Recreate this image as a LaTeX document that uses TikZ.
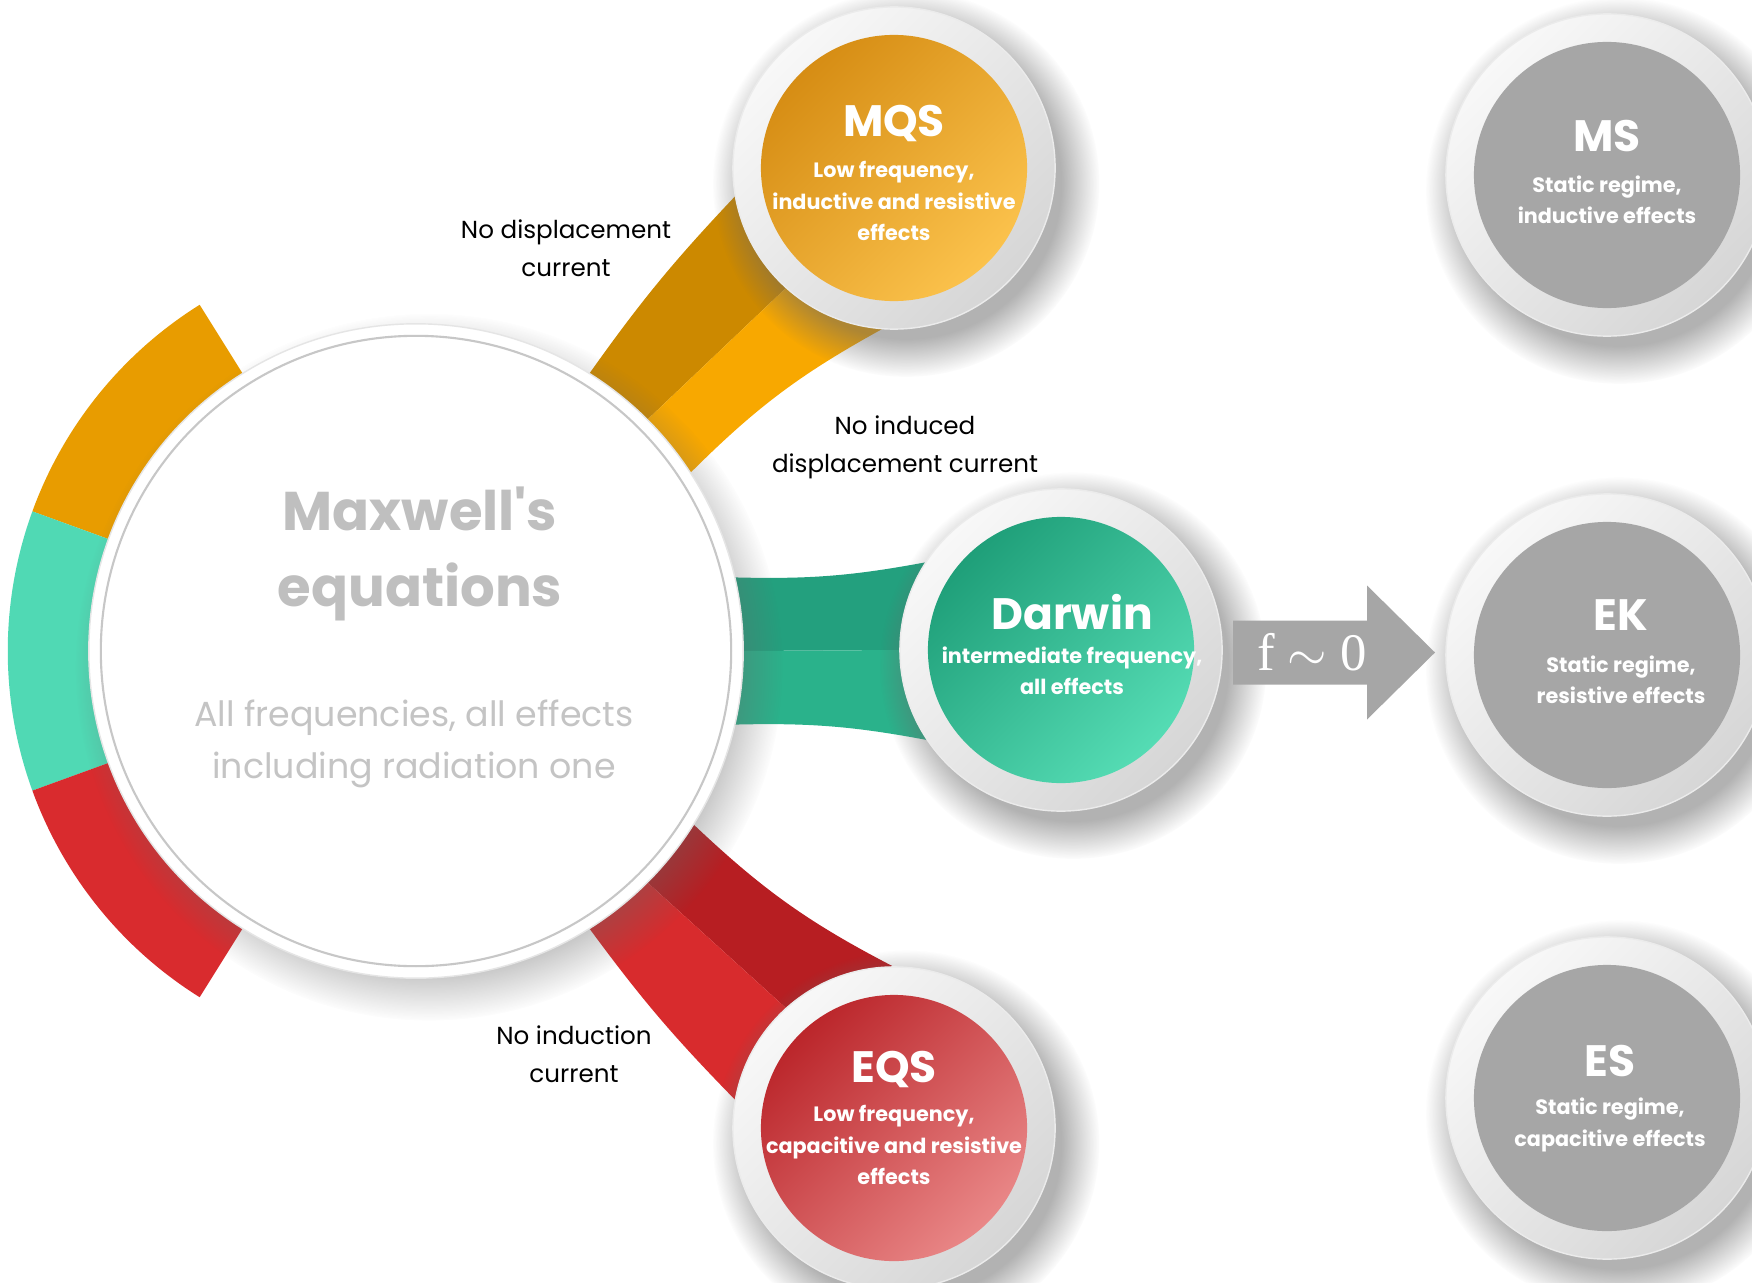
\documentclass[tikz,border=0pt]{standalone}
\usepackage{fontspec}
\setmainfont{Poppins}
\newfontfamily\limfont{Liberation Serif}
\usetikzlibrary{calc,shadows,fadings}
\pgfdeclarelayer{background}
\pgfsetlayers{background,main}

\definecolor{arcorange}{HTML}{E89C00}
\definecolor{arcteal}{HTML}{50D9B4}
\definecolor{arcred}{HTML}{D92B2E}
\definecolor{orgdark}{HTML}{CC8900}
\definecolor{orglight}{HTML}{F8A800}
\definecolor{tealdark}{HTML}{23A07E}
\definecolor{teallight}{HTML}{2AB28B}
\definecolor{reddark}{HTML}{B71E22}
\definecolor{redlight}{HTML}{D82B2D}
\definecolor{mqsA}{HTML}{D68D14}
\definecolor{mqsB}{HTML}{FBC24C}
\definecolor{darA}{HTML}{1F9F79}
\definecolor{darB}{HTML}{55DCB4}
\definecolor{eqsA}{HTML}{BB262B}
\definecolor{eqsB}{HTML}{E98787}
\definecolor{statgray}{HTML}{A6A6A6}
\definecolor{ringlt}{HTML}{F8F8F8}
\definecolor{ringdk}{HTML}{D6D6D6}
\definecolor{maxgray}{HTML}{BFBFBF}
\definecolor{maxlight}{HTML}{C4C4C4}

\tikzset{
	ringnode/.style={circle, minimum size=3.22cm, inner sep=0pt, outer sep=0pt,
		top color=ringlt, bottom color=ringdk, shading angle=45, draw=black!8,
		circular drop shadow={shadow scale=1.2, shadow xshift=0.1cm, shadow yshift=-0.13cm,
			opacity=0.5, fill=black!60, path fading={circle with fuzzy edge 20 percent}}},
	disknode/.style={circle, minimum size=2.66cm, inner sep=0pt, outer sep=0pt},
	regtitle/.style={text=white, font=\fontsize{12.5}{14}\selectfont\bfseries},
	regtext/.style={text=white, align=center, font=\fontsize{5.9}{8.9}\selectfont\bfseries},
	lbl/.style={align=center, font=\fontsize{7}{10.8}\selectfont},
}

\begin{document}
\begin{tikzpicture}[x=0.01cm,y=-0.01cm]
	\useasboundingbox (0,0) rectangle (1752,1282);
	% central circle
	\node[circle, minimum size=6.54cm, inner sep=0pt, outer sep=0pt, fill=white, draw=black!10,
		circular drop shadow={shadow scale=1.08, shadow xshift=0.12cm, shadow yshift=-0.15cm,
			opacity=0.4, fill=black!60, path fading={circle with fuzzy edge 15 percent}}] (maxw) at (416,651) {};
	\node[circle, minimum size=6.3cm, inner sep=0pt, fill=white, draw=black!22, line width=0.6pt] (maxw-in) at (maxw) {};
	\node[align=center, text=maxgray, font=\fontsize{15.5}{21.6}\selectfont\bfseries] (maxw-t) at ($(maxw)+(4,-97)$) {Maxwell\textquotesingle s\\equations};
	\node[align=center, text=maxlight, font=\fontsize{9.9}{14.6}\selectfont] (maxw-d) at ($(maxw)+(-2,93)$) {All frequencies, all effects\\including radiation one};

	% quasi-static regimes
	\node[ringnode] (mqs) at (894,168) {};
	\node[disknode, top color=mqsA, bottom color=mqsB, shading angle=45] (mqs-in) at (mqs) {};
	\node[regtitle] (mqs-t) at ($(mqs)+(0,-45)$) {MQS};
	\node[regtext] (mqs-d) at ($(mqs)+(0,33)$) {Low frequency,\\inductive and resistive\\effects};

	\node[ringnode] (darwin) at (1061,650) {};
	\node[disknode, top color=darA, bottom color=darB, shading angle=45] (darwin-in) at (darwin) {};
	\node[regtitle] (darwin-t) at ($(darwin)+(11,-38)$) {Darwin};
	\node[regtext] (darwin-d) at ($(darwin)+(11,21)$) {intermediate frequency,\\all effects};

	\node[ringnode] (eqs) at (894,1128) {};
	\node[disknode, top color=eqsA, bottom color=eqsB, shading angle=45] (eqs-in) at (eqs) {};
	\node[regtitle] (eqs-t) at ($(eqs)+(0,-59)$) {EQS};
	\node[regtext] (eqs-d) at ($(eqs)+(0,17)$) {Low frequency,\\capacitive and resistive\\effects};

	% static regimes
	\node[ringnode] (ms) at (1607,175) {};
	\node[disknode, fill=statgray] (ms-in) at (ms) {};
	\node[regtitle] (ms-t) at ($(ms)+(0,-39)$) {MS};
	\node[regtext] (ms-d) at ($(ms)+(0,25)$) {Static regime,\\inductive effects};

	\node[ringnode] (ek) at (1607,655) {};
	\node[disknode, fill=statgray] (ek-in) at (ek) {};
	\node[regtitle] (ek-t) at ($(ek)+(14,-40)$) {EK};
	\node[regtext] (ek-d) at ($(ek)+(14,25)$) {Static regime,\\resistive effects};

	\node[ringnode] (es) at (1607,1098) {};
	\node[disknode, fill=statgray] (es-in) at (es) {};
	\node[regtitle] (es-t) at ($(es)+(3,-37)$) {ES};
	\node[regtext] (es-d) at ($(es)+(3,27)$) {Static regime,\\capacitive effects};

	% f -> 0 arrow
	\coordinate (lim) at ($(darwin)!0.5!(ek)$);
	\fill[statgray] ($(lim)+(-101,-32)$) -- ++(134,0) -- ++(0,-35) -- ++(68,67) -- ++(-68,67) -- ++(0,-35) -- ++(-134,0) -- cycle;
	\node[text=white, font=\limfont\fontsize{15}{15}\selectfont] (lim-t) at ($(lim)+(-22,0)$) {f $\sim$ 0};

	% labels
	\node[lbl] (nodisp) at (566,248) {No displacement\\current};
	\node[lbl] (noind) at (905,447) {No induced\\displacement current};
	\node[lbl] (noinduct) at (574,1054) {No induction\\current};

	\begin{pgfonlayer}{background}
		\fill[white] (0,0) rectangle (1752,1282);
		% left arc
		\fill[arcorange] ($(maxw)+(122:4.08cm)$) arc[start angle=122, end angle=160, radius=4.08cm]
			-- ($(maxw)+(160:3.1cm)$) arc[start angle=160, end angle=122, radius=3.1cm] -- cycle;
		\fill[arcteal] ($(maxw)+(160:4.08cm)$) arc[start angle=160, end angle=200, radius=4.08cm]
			-- ($(maxw)+(200:3.1cm)$) arc[start angle=200, end angle=160, radius=3.1cm] -- cycle;
		\fill[arcred] ($(maxw)+(200:4.08cm)$) arc[start angle=200, end angle=238, radius=4.08cm]
			-- ($(maxw)+(238:3.1cm)$) arc[start angle=238, end angle=200, radius=3.1cm] -- cycle;
		% bands
		\fill[orgdark] (maxw.center) -- (maxw.58) to[bend left=4] (mqs.190) -- (mqs.center) -- (mqs.228) -- (maxw.45) -- cycle;
		\fill[orglight] (maxw.center) -- (maxw.45) -- (mqs.228) -- (mqs.center) -- (mqs.266) to[bend right=8] (maxw.33) -- cycle;
		\fill[tealdark] (maxw.center) -- (maxw.13) to[bend right=6] (darwin.147) -- (darwin.center) -- (darwin.180) -- (maxw.0) -- cycle;
		\fill[teallight] (maxw.center) -- (maxw.0) -- (darwin.180) -- (darwin.center) -- (darwin.214) to[bend right=6] (maxw.-13) -- cycle;
		\fill[reddark] (maxw.center) -- (maxw.-32) to[bend right=8] (eqs.90) -- (eqs.center) -- (eqs.132) -- (maxw.-45) -- cycle;
		\fill[redlight] (maxw.center) -- (maxw.-45) -- (eqs.132) -- (eqs.center) -- (eqs.170) to[bend left=4] (maxw.-58) -- cycle;
	\end{pgfonlayer}
\end{tikzpicture}
\end{document}
